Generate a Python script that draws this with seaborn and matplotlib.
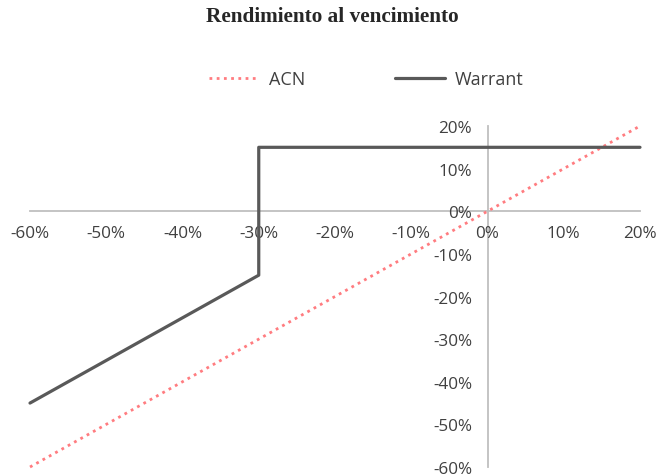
import pandas as pd
import matplotlib.pyplot as plt
import seaborn as sns
from matplotlib.ticker import PercentFormatter, MultipleLocator

# price change of the underlying at expiry
acn_x = [-0.60, 0.20]
acn_y = [-0.60, 0.20]

warrant_x = [-0.60, -0.30, -0.30, 0.20]
warrant_y = [-0.45, -0.15, 0.15, 0.15]

sns.set_style('white')
plt.rcParams['font.family'] = ['Open Sans', 'DejaVu Sans']
plt.rcParams['axes.unicode_minus'] = False

acn = pd.DataFrame({'x': acn_x, 'y': acn_y})
warrant = pd.DataFrame({'x': warrant_x, 'y': warrant_y})

fig = plt.figure(figsize=(6.58, 4.77), dpi=100)
ax = fig.add_axes([30 / 658, 9 / 477, 610 / 658, 341 / 477])

sns.lineplot(data=acn, x='x', y='y', ax=ax, color='#ff7c80', linestyle=(0, (1, 1.6)),
             linewidth=2, label='ACN', estimator=None, sort=False, clip_on=False)
sns.lineplot(data=warrant, x='x', y='y', ax=ax, color='#595959', linewidth=2.3,
             label='Warrant', estimator=None, sort=False, clip_on=False)

ax.set_xlim(-0.60, 0.20)
ax.set_ylim(-0.60, 0.20)
ax.xaxis.set_major_locator(MultipleLocator(0.1))
ax.yaxis.set_major_locator(MultipleLocator(0.1))
ax.xaxis.set_major_formatter(PercentFormatter(1, decimals=0))
ax.yaxis.set_major_formatter(PercentFormatter(1, decimals=0))

for s in ['top', 'right']:
    ax.spines[s].set_visible(False)
ax.spines['left'].set_position(('data', 0))
ax.spines['bottom'].set_position(('data', 0))
for s in ['left', 'bottom']:
    ax.spines[s].set_color('#bfbfbf')
    ax.spines[s].set_linewidth(1.3)
    ax.spines[s].set_zorder(0.5)

ax.tick_params(axis='both', length=0, labelsize=12.3, labelcolor='#404040')
ax.tick_params(axis='y', pad=11)
ax.tick_params(axis='x', pad=10)
ax.set_xlabel('')
ax.set_ylabel('')

fig.suptitle('Rendimiento al vencimiento', x=0.505, y=0.985, fontsize=15.3,
             fontweight='bold', family='Liberation Serif')

ax.get_legend().remove()
handles, labels = ax.get_legend_handles_labels()
fig.legend(handles, labels, loc='center', bbox_to_anchor=(0.557, 0.832), ncol=2,
           frameon=False, fontsize=13, labelcolor='#404040', handlelength=2.75,
           handletextpad=0.55, columnspacing=5.0)

fig.savefig('out.png', dpi=100)
plt.close()
